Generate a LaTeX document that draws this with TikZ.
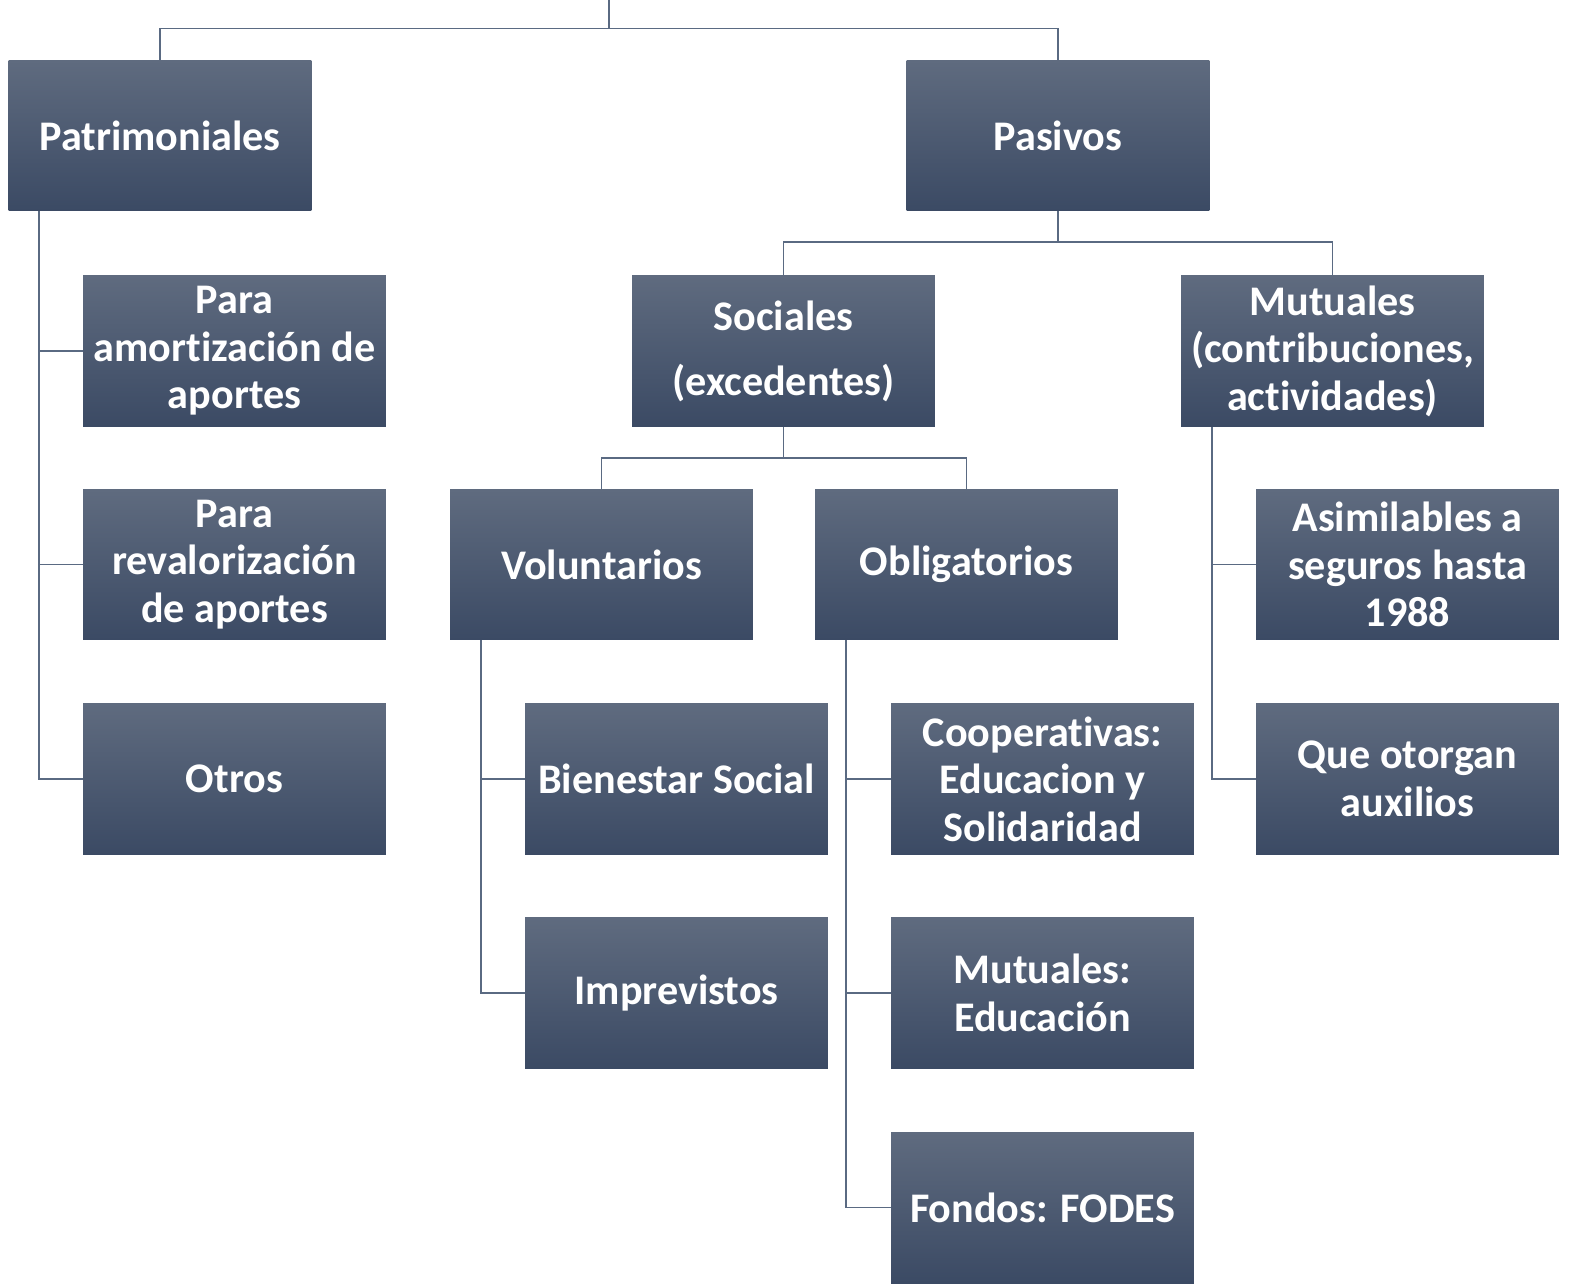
\documentclass[tikz,border=0pt]{standalone}
\usepackage{fontspec}
\setmainfont{Carlito}[Ligatures=NoCommon]
\usetikzlibrary{calc}
\definecolor{cajaarriba}{HTML}{5F6B7F}
\definecolor{cajaabajo}{HTML}{3B4A64}
\definecolor{lineacol}{HTML}{5A6A82}
\tikzset{
  caja/.style={rectangle, draw=none, inner sep=0pt, minimum width=6.06cm, minimum height=3.02cm,
    top color=cajaarriba, bottom color=cajaabajo, text=white, align=center,
    font=\fontsize{24}{27}\selectfont\bfseries},
  linea/.style={draw=lineacol, line width=1.1pt}
}
\newcommand{\caja}[4]{\node[caja] (#1) at ( #2 , #3 ) {#4};}
\newcommand{\rama}[2]{\draw[linea] ($(#1.south west)+(31,0)$) |- (#2.west);}
\newcommand{\arbol}[3]{\draw[linea] (#1.south) -- ++(0,31) coordinate (#1bus); \draw[linea] (#2.north) |- (#1bus) -| (#3.north);}

\begin{document}
\begin{tikzpicture}[x=0.02cm,y=-0.02cm]
        \useasboundingbox (0,0) rectangle (1576,1285);

        % row1
        \caja{patri}{160}{135.5}{Patrimoniales}
        \caja{pasivos}{1058}{135.5}{Pasivos}

        % row2
        \caja{amort}{234.5}{351}{Para\\amortización de\\aportes}
        \caja{soc}{783.5}{351}{Sociales\\[10pt](excedentes)}
        \caja{mut}{1332.5}{351}{Mutuales\\(contribuciones,\\actividades)}

        % row3
        \caja{reval}{234.5}{564.5}{Para\\revalorización\\de aportes}
        \caja{vol}{601.5}{564.5}{Voluntarios}
        \caja{obl}{966.5}{564.5}{Obligatorios}
        \caja{asim}{1407.5}{564.5}{Asimilables a\\seguros hasta\\1988}

        % row4
        \caja{otros}{234.5}{779}{Otros}
        \caja{bien}{676.5}{779}{Bienestar Social}
        \caja{coop}{1042.5}{779}{Cooperativas:\\Educacion y\\Solidaridad}
        \caja{aux}{1407.5}{779}{Que otorgan\\auxilios}

        % row5
        \caja{impr}{676.5}{993}{Imprevistos}
        \caja{mutedu}{1042.5}{993}{Mutuales:\\Educación}

        % row6
        \caja{fodes}{1042.5}{1207.5}{Fondos: FODES}

        % lineas
        \coordinate (raiz) at (609,0);
        \coordinate (bus) at (609,28.5);
        \draw[linea] (raiz) -- (bus);
        \draw[linea] (patri.north) |- (bus) -| (pasivos.north);

        \arbol{pasivos}{soc}{mut}
        \arbol{soc}{vol}{obl}

        \rama{patri}{amort}
        \rama{patri}{reval}
        \rama{patri}{otros}

        \rama{vol}{bien}
        \rama{vol}{impr}

        \rama{obl}{coop}
        \rama{obl}{mutedu}
        \rama{obl}{fodes}

        \rama{mut}{asim}
        \rama{mut}{aux}

\end{tikzpicture}
\end{document}
